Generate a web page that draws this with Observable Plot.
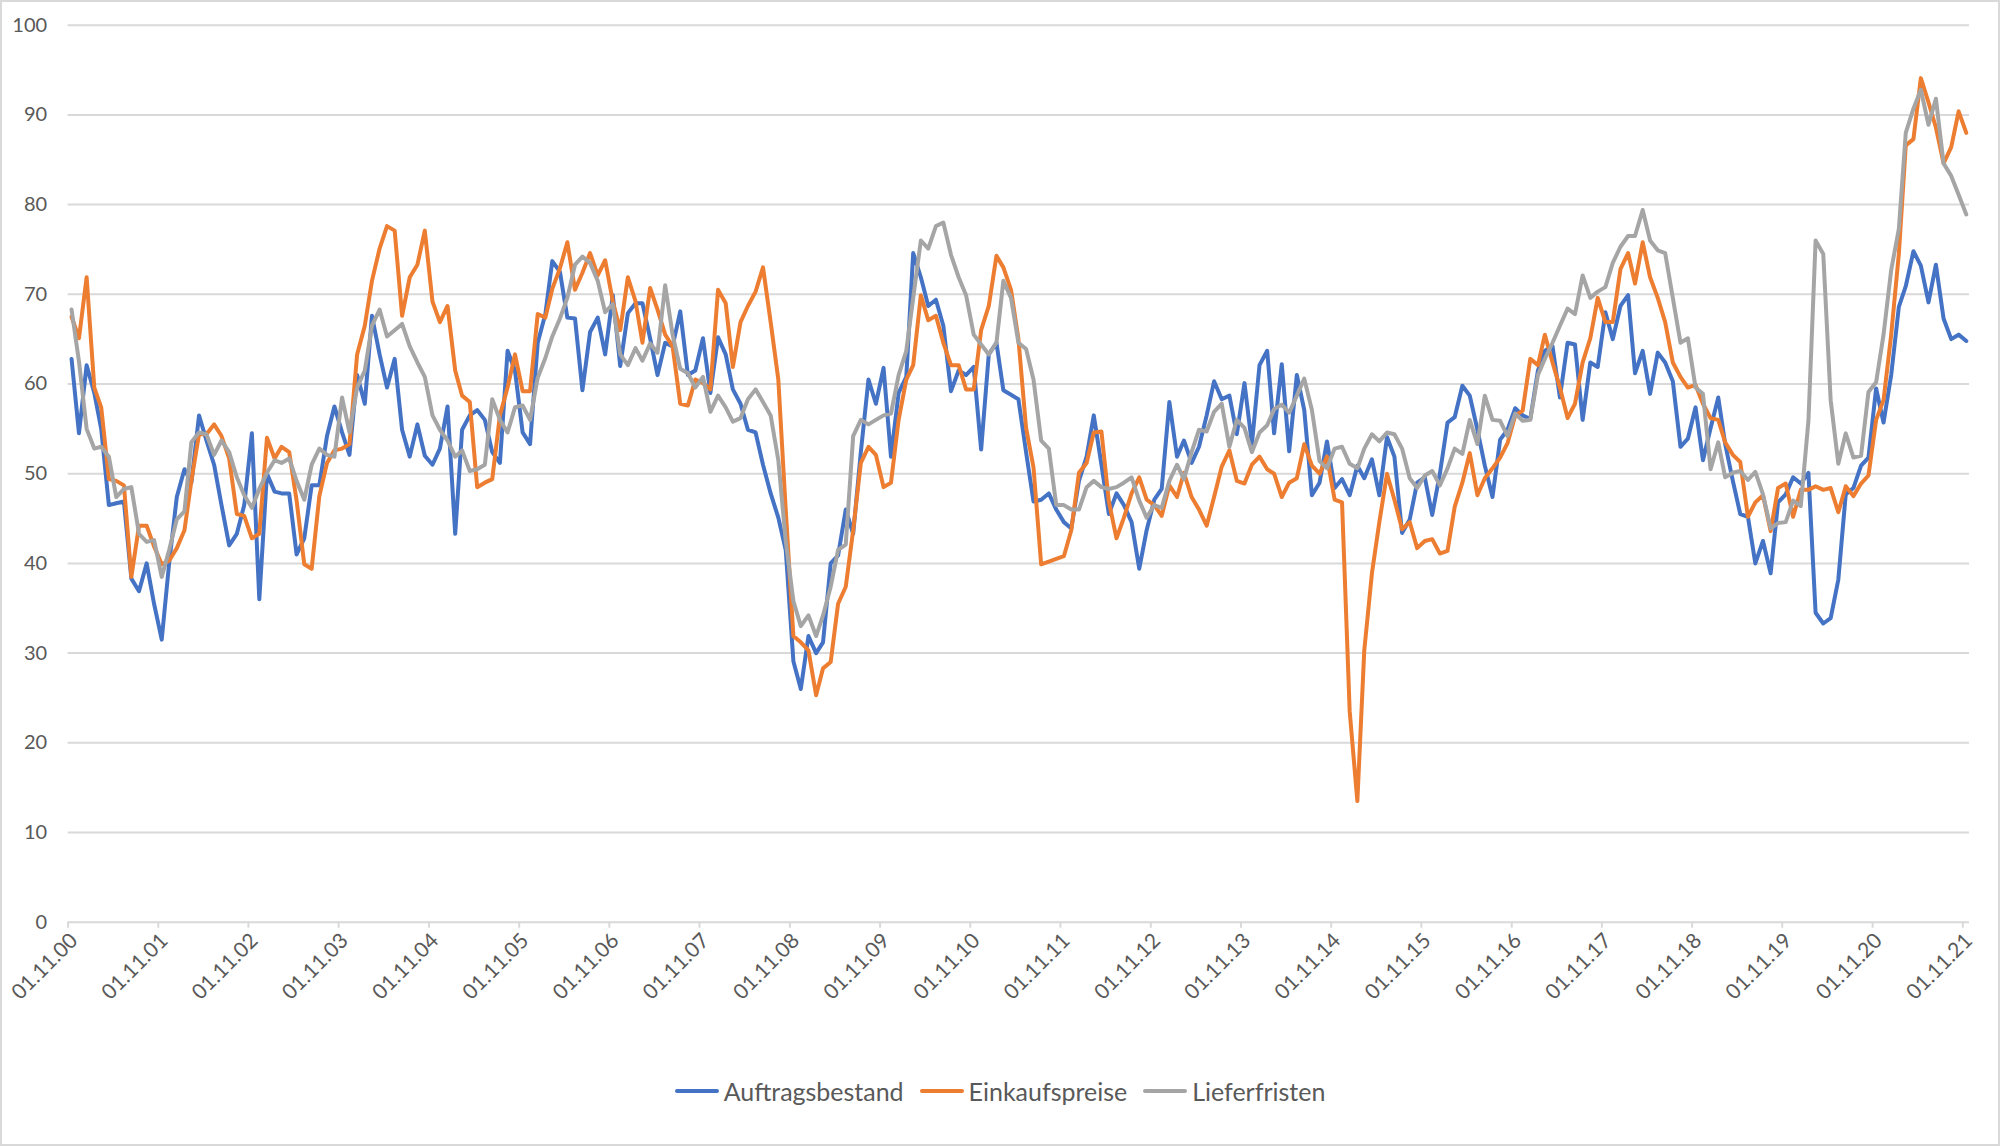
<!DOCTYPE html>
<html>
<head>
<meta charset="utf-8">
<script src="https://cdn.jsdelivr.net/npm/d3@7"></script>
<script src="https://cdn.jsdelivr.net/npm/@observablehq/plot@0.6"></script>
<style>
  html, body { margin: 0; padding: 0; background: #ffffff; }
  #wrap { position: relative; width: 2000px; height: 1146px; background: #ffffff; overflow: hidden; font-family: Lato, "Open Sans", sans-serif; }
  #chart { position: absolute; left: 0; top: 0; }
  #frame { position: absolute; left: 0; top: 0; width: 1996px; height: 1142px; border: 2px solid #d9d9d9; pointer-events: none; }
  #legend { position: absolute; left: 0; width: 2000px; top: 1076px; display: flex; justify-content: center; align-items: center; color: #595959; white-space: nowrap; }
  .item { display: flex; align-items: center; margin: 0 8px; }
  .sw { display: inline-block; width: 44px; height: 4px; border-radius: 2px; margin-right: 5px; }
</style>
</head>
<body>
<div id="wrap">
  <div id="chart"></div>
  <div id="legend"></div>
  <div id="frame"></div>
</div>
<script>
// Series names and colours
const seriesNames = ["Auftragsbestand", "Einkaufspreise", "Lieferfristen"];
const seriesColors = ["#4472C4", "#ED7D31", "#A5A5A5"];

// Monthly values, November 2000 to November 2021 (one row = Nov..Oct)
const auftragsbestand = [
  62.8, 54.5, 62.1, 59, 55, 46.5, 46.7, 46.9, 38.3, 36.9, 40, 35.5,
  31.5, 40, 47.4, 50.5, 49, 56.5, 53.7, 51, 46.5, 42, 43.3, 46.5,
  54.5, 36, 50, 48, 47.8, 47.8, 41, 42.8, 48.7, 48.7, 54.2, 57.5,
  54.6, 52.1, 61, 57.8, 67.6, 63.3, 59.6, 62.8, 54.9, 51.9, 55.5, 52,
  51, 52.8, 57.5, 43.3, 54.9, 56.5, 57.1, 56, 52.4, 51.2, 63.7, 61.5,
  54.6, 53.3, 64.6, 67.8, 73.7, 72.5, 67.4, 67.3, 59.3, 65.8, 67.4, 63.3,
  69.9, 62, 67.9, 69, 69, 65.1, 61, 64.6, 64.2, 68.1, 61, 61.5,
  65.1, 59, 65.2, 63.3, 59.4, 57.8, 54.9, 54.6, 51, 47.8, 45.1, 41.5,
  29.1, 26, 31.9, 30, 31.2, 40, 40.9, 46, 43.3, 52.4, 60.5, 57.8,
  61.8, 51.9, 59, 60.8, 74.6, 71.9, 68.7, 69.4, 66.5, 59.2, 61.5, 61,
  61.9, 52.7, 63.3, 64.6, 59.3, 58.8, 58.3, 52.4, 46.9, 47.1, 47.8, 46,
  44.6, 43.9, 49.2, 51.9, 56.5, 51, 45.5, 47.8, 46.5, 44.6, 39.4, 43.7,
  47.1, 48.3, 58, 51.9, 53.7, 51.2, 53, 56.5, 60.3, 58.3, 58.7, 54.4,
  60.1, 53.3, 62.1, 63.7, 54.5, 62.2, 52.5, 61, 57.1, 47.6, 49, 53.6,
  48.4, 49.4, 47.6, 50.9, 49.5, 51.6, 47.6, 54.1, 51.9, 43.4, 44.9, 49,
  49.6, 45.4, 50, 55.7, 56.3, 59.8, 58.7, 54.9, 50.9, 47.4, 53.8, 54.9,
  57.3, 56.5, 56.1, 61.5, 63.7, 64.2, 58.5, 64.6, 64.4, 56, 62.4, 61.9,
  68, 65, 68.7, 69.9, 61.2, 63.7, 58.9, 63.5, 62.4, 60.3, 53, 53.9,
  57.4, 51.5, 55.1, 58.5, 53.3, 49.2, 45.5, 45.2, 40, 42.5, 38.9, 46.8,
  47.7, 49.6, 48.9, 50.1, 34.5, 33.3, 33.9, 38.2, 47.7, 48.4, 50.9, 51.8,
  59.5, 55.7, 61, 68.6, 70.9, 74.8, 73.2, 69.1, 73.3, 67.3, 65, 65.5,
  64.8
];
const einkaufspreise = [
  67.5, 65.1, 71.9, 59.6, 57.4, 49.4, 49.2, 48.7, 38.5, 44.2, 44.2, 41.9,
  39.9, 40.3, 41.7, 43.7, 49.2, 54.4, 54.4, 55.5, 54.2, 51.7, 45.5, 45.3,
  42.8, 43.3, 54, 51.7, 53, 52.4, 47, 39.9, 39.4, 47.5, 51.2, 52.6,
  52.8, 53.3, 63.3, 66.5, 71.5, 75.1, 77.6, 77.1, 67.6, 71.9, 73.3, 77.1,
  69.2, 66.9, 68.7, 61.5, 58.7, 58, 48.5, 49, 49.4, 56.5, 59.6, 63.3,
  59.2, 59.2, 67.8, 67.4, 70.6, 72.9, 75.8, 70.5, 72.4, 74.6, 72.1, 73.8,
  69.2, 66, 71.9, 69.2, 64.6, 70.7, 68.3, 65.5, 64.2, 57.8, 57.6, 60.5,
  60.1, 59.4, 70.5, 69, 61.9, 66.9, 68.7, 70.3, 73, 66.9, 60.5, 46,
  31.9, 31.2, 30.3, 25.3, 28.3, 29, 35.5, 37.4, 43.7, 51.2, 53, 52.1,
  48.5, 49, 56, 60.5, 62.1, 69.9, 67.1, 67.6, 64.6, 62.1, 62.1, 59.4,
  59.4, 66, 68.7, 74.3, 73, 70.5, 65, 55.1, 50.7, 39.9, 40.2, 40.5,
  40.8, 43.7, 50.1, 51.2, 54.6, 54.7, 46.9, 42.8, 45.1, 47.8, 49.6, 47.1,
  46.5, 45.3, 48.7, 47.4, 50.1, 47.4, 46, 44.2, 47.4, 50.8, 52.6, 49.2,
  48.9, 51, 51.9, 50.5, 50, 47.4, 49, 49.5, 53.3, 50.9, 50, 51.9,
  47.1, 46.8, 23.5, 13.5, 30.3, 38.9, 44.6, 50, 47.1, 43.8, 44.6, 41.7,
  42.5, 42.7, 41.1, 41.4, 46.3, 49, 52.3, 47.6, 49.5, 50.6, 51.8, 53.4,
  56.5, 57, 62.8, 62.1, 65.5, 62.4, 59.6, 56.2, 57.8, 62.4, 65.1, 69.6,
  66.9, 66.9, 72.8, 74.6, 71.2, 75.8, 71.9, 69.6, 66.9, 62.4, 60.8, 59.6,
  59.9, 57.8, 56.2, 56, 53.5, 52.1, 51.3, 45.2, 46.8, 47.6, 43.6, 48.4,
  48.9, 45.2, 48.2, 48.2, 48.6, 48.2, 48.4, 45.7, 48.6, 47.5, 48.9, 49.8,
  56, 58.2, 65.5, 74.5, 86.6, 87.3, 94.1, 91.4, 88.6, 84.6, 86.4, 90.4,
  88
];
const lieferfristen = [
  68.3, 62.5, 55, 52.8, 53, 51.9, 47.4, 48.3, 48.5, 43.3, 42.4, 42.6,
  38.5, 41.5, 44.9, 45.8, 53.5, 54.6, 54.4, 52.1, 53.7, 52.4, 49.6, 47.6,
  46.2, 48.3, 50.1, 51.5, 51.2, 51.7, 49.2, 47.1, 51, 52.8, 52.1, 51.9,
  58.5, 54.6, 59.6, 61.5, 66.5, 68.3, 65.3, 66, 66.7, 64.2, 62.4, 60.8,
  56.5, 54.9, 53.7, 51.9, 52.6, 50.3, 50.5, 51, 58.3, 56, 54.6, 57.4,
  57.6, 56, 60.7, 62.9, 65.3, 67.3, 69.6, 73.3, 74.2, 73.5, 71.5, 68,
  68.9, 63.3, 62.1, 64, 62.6, 64.5, 63.5, 71, 65.5, 61.7, 61.2, 59.6,
  60.8, 56.9, 58.7, 57.4, 55.8, 56.2, 58.3, 59.4, 58, 56.5, 51.5, 42.5,
  35.8, 33, 34.2, 31.9, 34.2, 37.4, 41.5, 42.1, 54.2, 56, 55.5, 56,
  56.5, 56.7, 61, 63.7, 69.6, 76, 75.1, 77.6, 78, 74.4, 71.9, 69.9,
  65.5, 64.4, 63.3, 64.6, 71.5, 69.6, 64.6, 63.9, 60.5, 53.7, 52.8, 46.5,
  46.5, 46, 46, 48.5, 49.2, 48.5, 48.3, 48.5, 49, 49.6, 47, 45.1,
  46.5, 46.2, 49.2, 51, 49.4, 52.4, 54.9, 54.7, 56.9, 57.8, 53, 56,
  55.1, 52.4, 54.6, 55.4, 57.2, 57.7, 56.8, 58.7, 60.6, 57.1, 51.4, 50.6,
  52.8, 53, 51.1, 50.6, 52.8, 54.4, 53.6, 54.6, 54.4, 52.8, 49.5, 48.4,
  49.8, 50.3, 48.7, 50.6, 52.8, 52.2, 56, 53.3, 58.7, 56, 55.9, 54.2,
  56.7, 55.9, 56, 61, 62.8, 64.6, 66.5, 68.4, 67.8, 72.1, 69.6, 70.3,
  70.8, 73.5, 75.3, 76.5, 76.5, 79.4, 76, 74.9, 74.6, 69.6, 64.6, 65.1,
  59.6, 58.9, 50.5, 53.5, 49.6, 50.1, 50.3, 49.3, 50.2, 47.7, 43.9, 44.5,
  44.6, 47, 46.4, 55.9, 76, 74.5, 58.2, 51.1, 54.5, 51.8, 52, 59.1,
  60.2, 65.5, 72.7, 77.3, 88, 90.7, 92.8, 88.9, 91.8, 84.6, 83.2, 81.1,
  78.9
];

// Axis ticks
const yTicks = [0, 10, 20, 30, 40, 50, 60, 70, 80, 90, 100];
const xTickYears = [2000, 2001, 2002, 2003, 2004, 2005, 2006, 2007, 2008, 2009, 2010,
  2011, 2012, 2013, 2014, 2015, 2016, 2017, 2018, 2019, 2020, 2021];

// Build the long table for Plot
const seriesValues = [auftragsbestand, einkaufspreise, lieferfristen];
const rows = [];
seriesValues.forEach((vals, s) => {
  vals.forEach((v, i) => {
    rows.push({ series: seriesNames[s], date: new Date(Date.UTC(2000, 10 + i, 15)), value: v });
  });
});
const xTicks = xTickYears.map(y => new Date(Date.UTC(y, 10, 1)));

const H = 1060;
const chart = Plot.plot({
  width: 2000,
  height: H,
  marginLeft: 67.6,
  marginRight: 31,
  marginTop: 24.7,
  marginBottom: H - 921.7,
  style: { fontFamily: "Lato, 'Open Sans', sans-serif", fontSize: "20px", color: "#595959", background: "#ffffff", overflow: "visible" },
  x: { type: "utc", domain: [new Date(Date.UTC(2000, 10, 1)), new Date(Date.UTC(2021, 10, 28))] },
  y: { domain: [0, 100] },
  color: { domain: seriesNames, range: seriesColors },
  marks: [
    Plot.ruleY(yTicks, { stroke: "#d9d9d9", strokeWidth: 2 }),
    Plot.axisY({ ticks: yTicks, tickSize: 0, tickPadding: 21, fill: "#595959", label: null, fontSize: 20 }),
    // tick marks only
    Plot.axisX({ ticks: xTicks, tickFormat: () => "", tickSize: 6, stroke: "#d9d9d9", strokeWidth: 2, label: null }),
    // rotated tick labels
    Plot.axisX({ ticks: xTicks, tickFormat: d => "01.11." + String(d.getUTCFullYear()).slice(2),
      tickRotate: -45, tickSize: 0, tickPadding: 15, dx: 6, fill: "#595959", label: null, fontSize: 21 }),
    Plot.lineY(rows, { x: "date", y: "value", z: "series", stroke: "series", strokeWidth: 4,
      strokeLinejoin: "round", strokeLinecap: "round" })
  ]
});
document.getElementById("chart").appendChild(chart);

// Legend
const legend = document.getElementById("legend");
seriesNames.forEach((name, i) => {
  const item = document.createElement("div");
  item.className = "item";
  const sw = document.createElement("span");
  sw.className = "sw";
  sw.style.background = seriesColors[i];
  const tx = document.createElement("span");
  tx.className = "lt";
  tx.textContent = name;
  item.appendChild(sw);
  item.appendChild(tx);
  legend.appendChild(item);
});
// fit legend font so the first label is about as wide as in the reference
const lts = legend.querySelectorAll(".lt");
lts.forEach(t => t.style.fontSize = "26px");
const w0 = lts[0].getBoundingClientRect().width;
const fs = Math.max(18, Math.min(30, 26 * 180 / w0));
lts.forEach(t => t.style.fontSize = fs + "px");
</script>
</body>
</html>
